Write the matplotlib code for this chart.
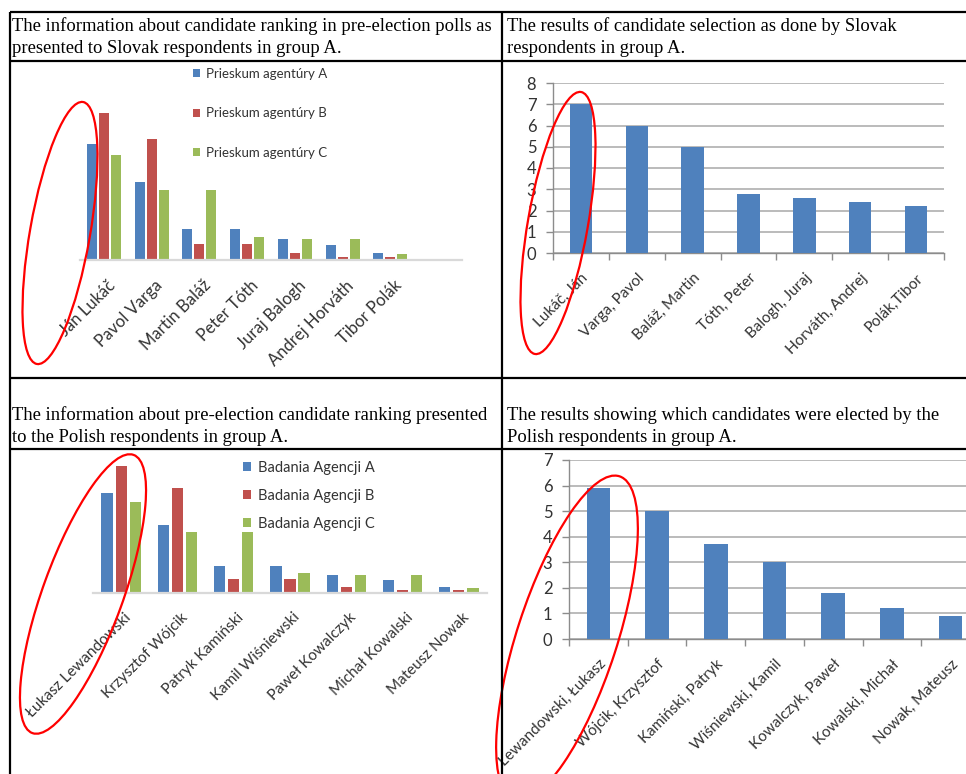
import numpy as np
import matplotlib
matplotlib.use('Agg')
import matplotlib.pyplot as plt
from matplotlib.patches import Ellipse
from matplotlib.transforms import ScaledTranslation

W, H, DPI = 966, 774, 100

blue, red, green = '#4F81BD', '#C0504D', '#9BBB59'
grid_grey = '#b5b5b5'
axis_grey = '#8c8c8c'
label_grey = '#333333'
sans = ['Lato', 'DejaVu Sans']
serif = ['Liberation Serif', 'DejaVu Serif']

# poll shares shown to both groups (same three agencies)
poll_a = [35.5, 24, 9.5, 9.5, 6.5, 4.5, 2]
poll_b = [45, 37, 5, 5, 2, 1, 1]
poll_c = [32, 21.5, 21.5, 7, 6.5, 6.5, 1.8]

sk_names = ['Ján Lukáč', 'Pavol Varga', 'Martin Baláž', 'Peter Tóth',
            'Juraj Balogh', 'Andrej Horváth', 'Tibor Polák']
sk_legend = ['Prieskum agentúry A', 'Prieskum agentúry B', 'Prieskum agentúry C']
sk_result_names = ['Lukáč, Ján', 'Varga, Pavol', 'Baláž, Martin', 'Tóth, Peter',
                   'Balogh, Juraj', 'Horváth, Andrej', 'Polák,Tibor']
sk_result = [7, 6, 5, 2.8, 2.6, 2.4, 2.2]

pl_names = ['Łukasz Lewandowski', 'Krzysztof Wójcik', 'Patryk Kamiński',
            'Kamil Wiśniewski', 'Paweł Kowalczyk', 'Michał Kowalski', 'Mateusz Nowak']
pl_legend = ['Badania Agencji A', 'Badania Agencji B', 'Badania Agencji C']
pl_result_names = ['Lewandowski, Łukasz', 'Wójcik, Krzysztof', 'Kamiński, Patryk',
                   'Wiśniewski, Kamil', 'Kowalczyk, Paweł', 'Kowalski, Michał',
                   'Nowak, Mateusz']
pl_result = [5.9, 5, 3.7, 3, 1.8, 1.2, 0.9]

# cell captions: (x, first baseline, lines)
headers = [
    (12, 31, ['The information about candidate ranking in pre-election polls as',
              'presented to Slovak respondents in group A.']),
    (507, 31, ['The results of candidate selection as done by Slovak',
               'respondents in group A.']),
    (12, 420, ['The information about pre-election candidate ranking presented',
               'to the Polish respondents in group A.']),
    (507, 420, ['The results showing which candidates were elected by the',
                'Polish respondents in group A.']),
]


def px_axes(fig, x0, y0, x1, y1):
    """axes placed by pixel box (y measured from the top)"""
    return fig.add_axes([x0 / W, 1 - y1 / H, (x1 - x0) / W, (y1 - y0) / H])


def shift_labels(fig, ax, dx_px):
    off = ScaledTranslation(dx_px / DPI, 0, fig.dpi_scale_trans)
    for lab in ax.get_xticklabels():
        lab.set_transform(lab.get_transform() + off)


def poll_chart(fig, ax, names, legend_labels, nslots, ymax, step, bar_w, fs,
               leg_fs, leg_pos, leg_spacing):
    x = np.arange(len(names))
    for i, (vals, col, lab) in enumerate(zip([poll_a, poll_b, poll_c],
                                             [blue, red, green], legend_labels)):
        ax.bar(x + (i - 1) * step, vals, width=bar_w, color=col, label=lab)
    ax.set_xlim(-0.5, nslots - 0.5)
    ax.set_ylim(0, ymax)
    for s in ['left', 'top', 'right']:
        ax.spines[s].set_visible(False)
    ax.spines['bottom'].set_color('#d9d9d9')
    ax.spines['bottom'].set_linewidth(1.6)
    ax.set_yticks([])
    ax.set_xticks(x)
    ax.set_xticklabels(names, rotation=45, ha='right', va='top',
                       rotation_mode='anchor', fontsize=fs, color=label_grey,
                       family=sans)
    ax.tick_params(axis='x', length=0, pad=12.5)
    shift_labels(fig, ax, 3)
    leg = ax.legend(loc='upper left',
                    bbox_to_anchor=(leg_pos[0] / W, 1 - leg_pos[1] / H),
                    bbox_transform=fig.transFigure, frameon=False,
                    prop={'family': sans, 'size': leg_fs},
                    handlelength=0.55, handleheight=0.55, handletextpad=0.45,
                    labelspacing=leg_spacing, borderpad=0, borderaxespad=0)
    for t in leg.get_texts():
        t.set_color(label_grey)


def result_chart(fig, ax, names, values, ymax, fs):
    x = np.arange(len(names))
    ax.bar(x, values, width=0.4, color=blue, zorder=3)
    ax.set_xlim(-0.5, len(names) - 0.5)
    ax.set_ylim(0, ymax)
    ax.set_yticks(range(ymax + 1))
    ax.yaxis.grid(True, color=grid_grey, lw=1.3)
    ax.set_axisbelow(True)
    for s in ['top', 'right']:
        ax.spines[s].set_visible(False)
    for s in ['left', 'bottom']:
        ax.spines[s].set_color(axis_grey)
        ax.spines[s].set_linewidth(1.0)
    ax.set_xticks(x)
    ax.set_xticklabels(names, rotation=45, ha='right', va='top',
                       rotation_mode='anchor', fontsize=fs, color=label_grey,
                       family=sans)
    ax.set_xticks(np.arange(len(names) + 1) - 0.5, minor=True)
    ax.tick_params(axis='x', which='major', length=0, pad=13)
    ax.tick_params(axis='x', which='minor', length=5, color=axis_grey, width=1)
    ax.tick_params(axis='y', length=5, color=axis_grey, width=1, pad=7,
                   labelsize=fs + 1, labelcolor=label_grey)
    for lab in ax.get_yticklabels():
        lab.set_family(sans)
    shift_labels(fig, ax, 0)


fig = plt.figure(figsize=(W / DPI, H / DPI), dpi=DPI)
fig.patch.set_facecolor('white')

# Slovak poll information
ax1 = px_axes(fig, 80, 62, 462, 260)
poll_chart(fig, ax1, sk_names, sk_legend, 8, 198 / 3.267, 0.25, 0.21, 12,
           9.5, (193, 68), 2.08)

# Slovak selection results
ax2 = px_axes(fig, 553, 83, 944, 253)
result_chart(fig, ax2, sk_result_names, sk_result, 8, 11)

# Polish poll information
ax3 = px_axes(fig, 93, 451, 487, 593)
poll_chart(fig, ax3, pl_names, pl_legend, 7, 142 / 2.83, 0.25, 0.2, 11,
           10.5, (243, 461), 0.95)

# Polish election results
ax4 = px_axes(fig, 569, 460, 980, 639)
result_chart(fig, ax4, pl_result_names, pl_result, 7, 11)

# table grid, captions and hand-drawn highlights on top
frame = fig.add_axes([0, 0, 1, 1], zorder=10)
frame.set_xlim(0, W)
frame.set_ylim(H, 0)
frame.axis('off')
frame.patch.set_alpha(0)

for y in [12, 61, 378, 449]:
    frame.plot([10, W + 5], [y, y], color='black', lw=1.6,
               solid_capstyle='butt')
for x in [10, 502]:
    frame.plot([x, x], [12, H + 5], color='black', lw=1.6,
               solid_capstyle='butt')

for x, y, lines in headers:
    for k, line in enumerate(lines):
        frame.text(x, y + 21.7 * k, line, fontsize=13.4, family=serif,
                   color='black', va='baseline')

# (center x, center y, semi-major, semi-minor, tilt from vertical in degrees)
rings = [(60, 233, 133, 30, 10), (558, 223, 133, 30, 10),
         (83, 594, 148, 40, 20), (567, 638, 170, 50, 18)]
for cx, cy, a, b, tilt in rings:
    frame.add_patch(Ellipse((cx, cy), 2 * a, 2 * b, angle=-(90 - tilt),
                            fill=False, edgecolor='#ff0000', lw=1.6))

fig.savefig('out.png', dpi=DPI, facecolor='white')
